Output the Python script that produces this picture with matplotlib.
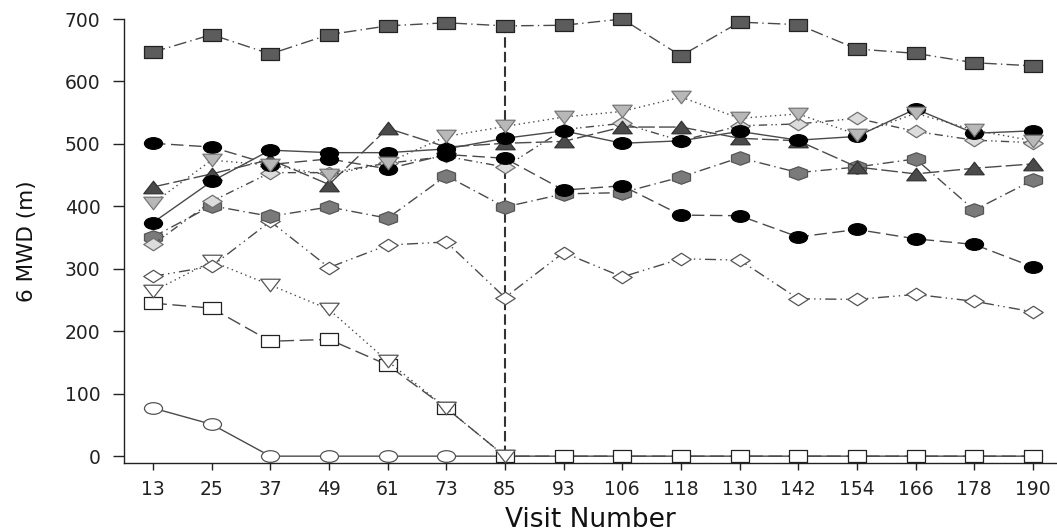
import numpy as np
import matplotlib
matplotlib.use("Agg")
import matplotlib.pyplot as plt
from matplotlib.path import Path

# visit numbers (categorical, evenly spaced)
visits = ['13', '25', '37', '49', '61', '73', '85', '93', '106', '118',
          '130', '142', '154', '166', '178', '190']

# 6MWD values, one list per patient
dark_squares = [647, 675, 644, 675, 689, 694, 689, 690, 700, 641, 695, 691, 652, 645, 630, 625]
light_tri_down = [405, 474, 466, 450, 470, 512, 528, 543, 552, 575, 541, 548, 515, 549, 522, 505]
black_circ_a = [501, 495, 467, 476, 460, 483, 477, 426, 433, 386, 385, 351, 363, 348, 339, 303]
black_circ_b = [374, 440, 490, 486, 486, 492, 509, 521, 501, 505, 520, 506, 512, 556, 517, 521]
dark_tri_up = [431, 452, 475, 435, 525, 495, 501, 504, 527, 527, 509, 505, 463, 452, 461, 468]
light_diamonds = [339, 408, 454, 454, 469, 480, 463, 523, 533, 505, 529, 532, 541, 520, 506, 502]
dark_hex = [351, 401, 384, 399, 381, 449, 399, 420, 422, 447, 478, 454, 463, 476, 394, 442]
white_diamonds = [288, 304, 376, 302, 338, 343, 254, 326, 287, 316, 314, 252, 251, 259, 248, 231]
white_tri_down = [264, 312, 274, 235, 152, 77, 0]
open_squares = [245, 237, 184, 187, 146, 77, 0, 0, 0, 0, 0, 0, 0, 0, 0, 0]
open_circles = [77, 51, 0, 0, 0, 0, 0, 0, 0, 0, 0, 0, 0, 0, 0, 0]

cutoff_visit = 6      # index of visit 85
cutoff_top = 688


# markers in the original are stretched sideways
def wide(path, sx=1.55):
    v = path.vertices.copy()
    v[:, 0] *= sx
    return Path(v, path.codes)


m_square = wide(Path([(-1, -1), (1, -1), (1, 1), (-1, 1), (-1, -1)], closed=True))
m_circle = wide(Path.unit_circle())
m_up = wide(Path([(0, 1), (-1, -1), (1, -1), (0, 1)], closed=True))
m_down = wide(Path([(0, -1), (-1, 1), (1, 1), (0, -1)], closed=True))
m_diam = wide(Path([(0, 1), (1, 0), (0, -1), (-1, 0), (0, 1)], closed=True))
m_hex = wide(Path.unit_regular_polygon(6))

line_col = '#4a4a4a'

series = [
    (open_circles, m_circle, 'white', '#555555', '-', 13),
    (open_squares, m_square, 'white', '#222222', (0, (10, 4)), 12.5),
    (white_tri_down, m_down, 'white', '#555555', (0, (1, 2.5)), 14),
    (white_diamonds, m_diam, 'white', '#555555', (0, (8, 3, 1, 3, 1, 3)), 14),
    (dark_hex, m_hex, '#7a7a7a', '#555555', (0, (8, 3, 1, 3)), 13),
    (light_diamonds, m_diam, '#dcdcdc', '#707070', (0, (6, 3, 1, 2, 1, 3)), 14),
    (dark_tri_up, m_up, '#4a4a4a', '#333333', (0, (12, 3)), 14),
    (black_circ_a, m_circle, 'black', 'black', (0, (9, 4)), 13),
    (black_circ_b, m_circle, 'black', 'black', '-', 13),
    (light_tri_down, m_down, '#b8b8b8', '#777777', (0, (1, 2.5)), 14),
    (dark_squares, m_square, '#5c5c5c', '#222222', (0, (9, 3, 1, 3)), 12.5),
]

fig = plt.figure(figsize=(10.57, 5.31), dpi=100)
ax = fig.add_axes([0.1173, 0.128, 0.8827, 0.8362])

ax.vlines(cutoff_visit, 0, cutoff_top, colors='#333333', linestyles=(0, (5, 2)),
          linewidth=1.5, zorder=1.5)

for vals, mk, fc, ec, ls, ms in series:
    x = np.arange(len(vals))
    ax.plot(x, vals, color=line_col, linewidth=1.0, linestyle=ls,
            marker=mk, markersize=ms, markerfacecolor=fc, markeredgecolor=ec,
            markeredgewidth=0.9, clip_on=False, zorder=2)

ax.set_xlim(-0.494, 15.41)
ax.set_ylim(-11, 700)
ax.set_xticks(np.arange(len(visits)))
ax.set_xticklabels(visits)
ax.set_yticks(np.arange(0, 701, 100))

ax.spines['top'].set_visible(False)
ax.spines['right'].set_visible(False)
for s in ['left', 'bottom']:
    ax.spines[s].set_color('#222222')
    ax.spines[s].set_linewidth(1.0)

ax.tick_params(axis='x', length=5, width=1, pad=7, labelsize=13.5, colors='#222222')
ax.tick_params(axis='y', length=8, width=1, pad=9, labelsize=13.5, colors='#222222')

ax.set_xlabel('Visit Number', fontsize=19, color='#111111', labelpad=6)
ax.set_ylabel('6 MWD (m)', fontsize=15.5, color='#111111', labelpad=20)

fig.savefig('out.png', dpi=100)
